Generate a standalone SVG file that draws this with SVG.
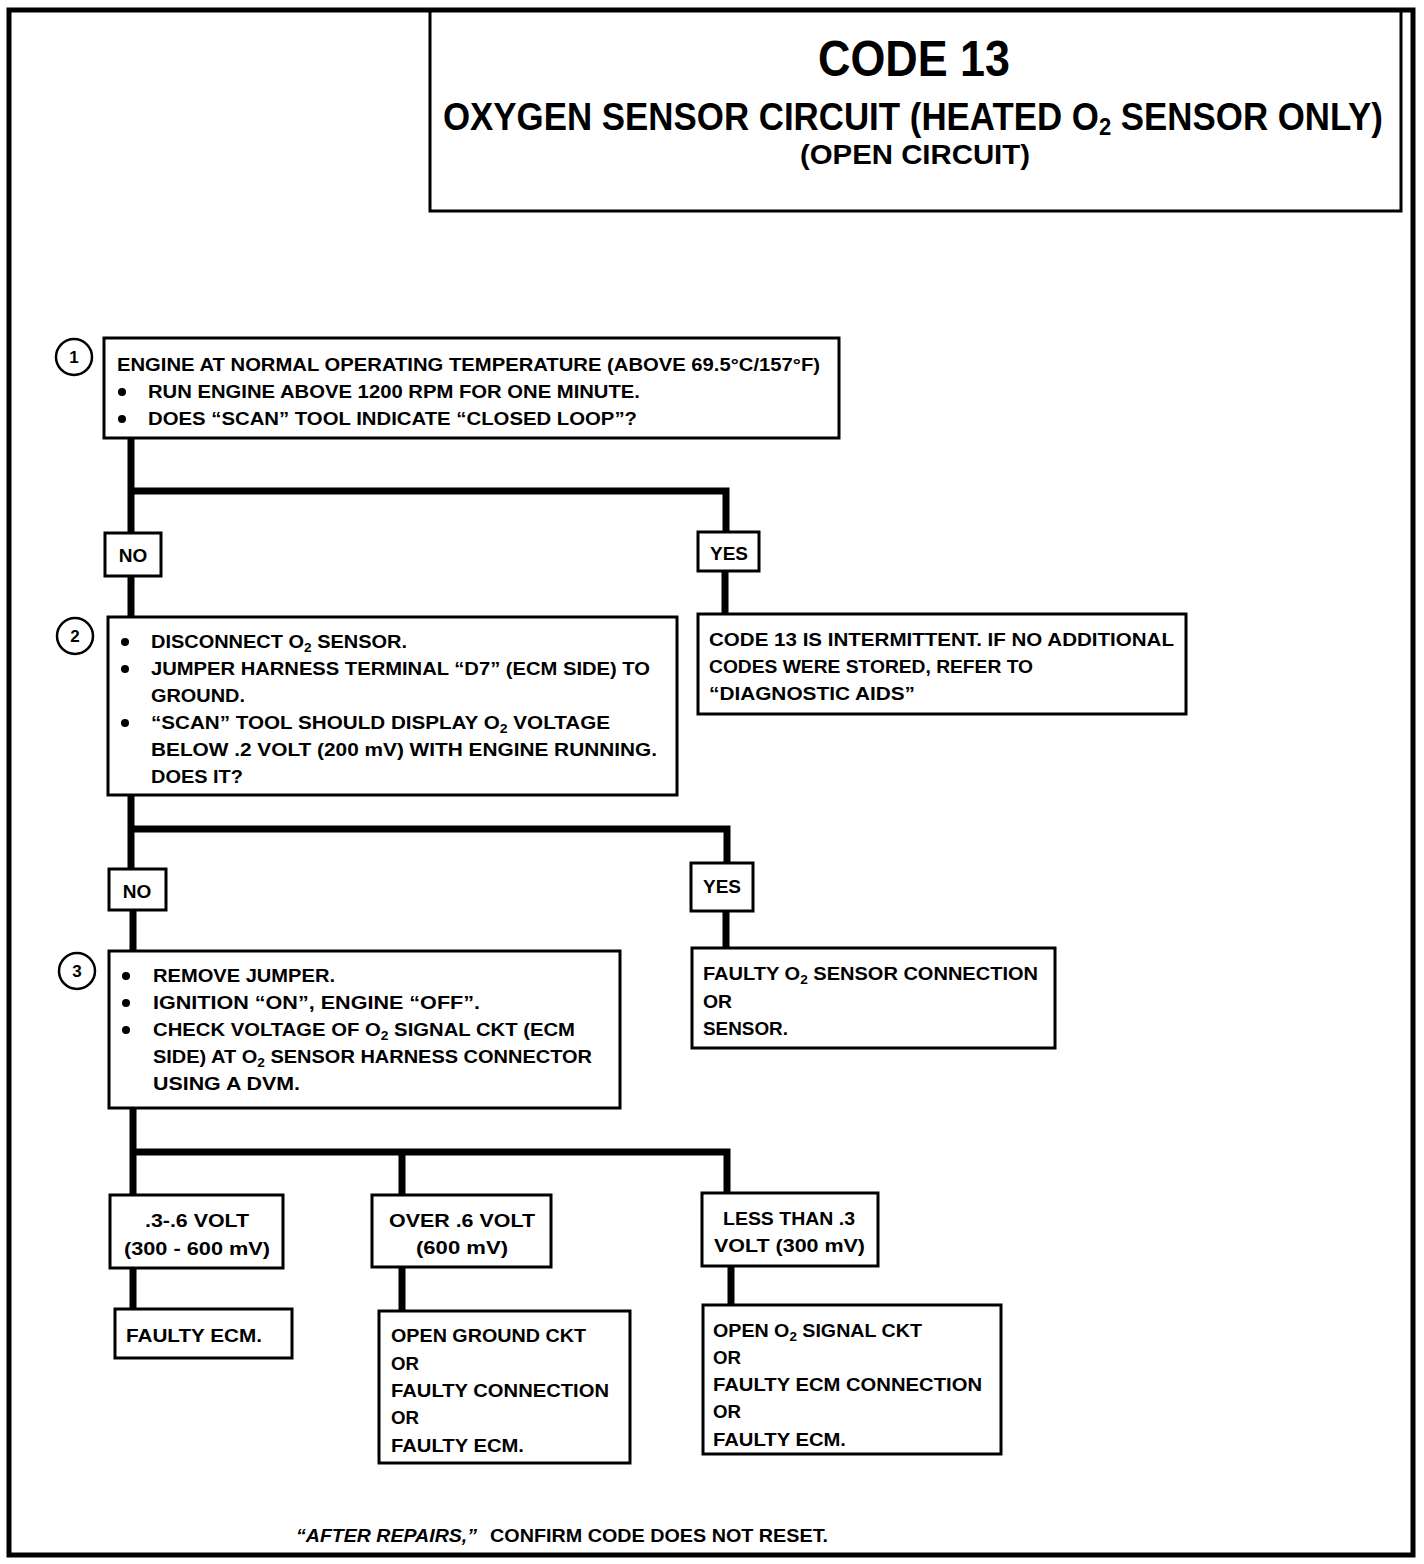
<svg xmlns="http://www.w3.org/2000/svg" width="1424" height="1564" viewBox="0 0 1424 1564">
<style>
.bx{fill:#fff;stroke:#000;stroke-width:3}
.cn{fill:none;stroke:#000;stroke-width:7;stroke-linecap:butt}
.t{font-family:"Liberation Sans",Arial,sans-serif;font-weight:bold;font-size:19px;fill:#000}
.c{text-anchor:middle}
.num{font-family:"Liberation Sans",Arial,sans-serif;font-weight:bold;font-size:17px;text-anchor:middle}
.ring{fill:#fff;stroke:#000;stroke-width:2.5}
.sub{font-size:13px}
.h1{font-size:50px}
.h2{font-size:38px}
.h3{font-size:27px}
</style>
<defs>
<circle id="dot" r="4" fill="#000"/>
</defs>
<rect x="0" y="0" width="1424" height="1564" fill="#fff"/>
<rect id="frame" x="9" y="10" width="1404" height="1545" fill="none" stroke="#000" stroke-width="5"/>

<g id="title">
<rect class="bx" x="430" y="11" width="971" height="200"/>
<text class="t h1 c" x="914" y="76" textLength="192" lengthAdjust="spacingAndGlyphs">CODE 13</text>
<text class="t h2" x="443" y="130" textLength="940" lengthAdjust="spacingAndGlyphs">OXYGEN SENSOR CIRCUIT (HEATED O<tspan style="font-size:24px" dy="5">2</tspan><tspan dy="-5"> SENSOR ONLY)</tspan></text>
<text class="t h3" x="800" y="164" textLength="230" lengthAdjust="spacingAndGlyphs">(OPEN CIRCUIT)</text>
</g>

<g id="connectors">
<path class="cn" d="M131 438 V533 M131 491 H726 V532"/>
<path class="cn" d="M131 576 V617 M725 571 V614"/>
<path class="cn" d="M131 795 V869 M131 829 H727 V863"/>
<path class="cn" d="M133 910 V951 M726 911 V948"/>
<path class="cn" d="M133 1108 V1195 M133 1152 H727 V1193 M402 1152 V1195"/>
<path class="cn" d="M133 1268 V1309 M402 1267 V1311 M731 1266 V1305"/>
</g>

<g id="step1">
<circle class="ring" cx="74" cy="357" r="18"/>
<text class="num" x="74" y="363">1</text>
<rect class="bx" x="104" y="338" width="735" height="100"/>
<text class="t" x="117" y="371" textLength="703" lengthAdjust="spacingAndGlyphs">ENGINE AT NORMAL OPERATING TEMPERATURE (ABOVE 69.5°C/157°F)</text>
<use href="#dot" x="122" y="392"/>
<text class="t" x="148" y="398" textLength="492" lengthAdjust="spacingAndGlyphs">RUN ENGINE ABOVE 1200 RPM FOR ONE MINUTE.</text>
<use href="#dot" x="122" y="419"/>
<text class="t" x="148" y="425" textLength="489" lengthAdjust="spacingAndGlyphs">DOES “SCAN” TOOL INDICATE “CLOSED LOOP”?</text>
</g>

<g id="no1">
<rect class="bx" x="105" y="533" width="56" height="43"/>
<text class="t c" x="133" y="562">NO</text>
</g>
<g id="yes1">
<rect class="bx" x="698" y="532" width="61" height="39"/>
<text class="t c" x="729" y="560">YES</text>
</g>

<g id="step2">
<circle class="ring" cx="75" cy="636" r="18"/>
<text class="num" x="75" y="642">2</text>
<rect class="bx" x="108" y="617" width="569" height="178"/>
<use href="#dot" x="125" y="642"/>
<text class="t" x="151" y="648" textLength="256" lengthAdjust="spacingAndGlyphs">DISCONNECT O<tspan class="sub" dy="4">2</tspan><tspan dy="-4"> SENSOR.</tspan></text>
<use href="#dot" x="125" y="669"/>
<text class="t" x="151" y="675" textLength="499" lengthAdjust="spacingAndGlyphs">JUMPER HARNESS TERMINAL “D7” (ECM SIDE) TO</text>
<text class="t" x="151" y="702" textLength="94" lengthAdjust="spacingAndGlyphs">GROUND.</text>
<use href="#dot" x="125" y="723"/>
<text class="t" x="151" y="729" textLength="459" lengthAdjust="spacingAndGlyphs">“SCAN” TOOL SHOULD DISPLAY O<tspan class="sub" dy="4">2</tspan><tspan dy="-4"> VOLTAGE</tspan></text>
<text class="t" x="151" y="756" textLength="506" lengthAdjust="spacingAndGlyphs">BELOW .2  VOLT (200 mV) WITH ENGINE RUNNING.</text>
<text class="t" x="151" y="783" textLength="92" lengthAdjust="spacingAndGlyphs">DOES IT?</text>
</g>

<g id="intermittent">
<rect class="bx" x="698" y="614" width="488" height="100"/>
<text class="t" x="709" y="646" textLength="465" lengthAdjust="spacingAndGlyphs">CODE 13 IS INTERMITTENT.  IF NO ADDITIONAL</text>
<text class="t" x="709" y="673" textLength="324" lengthAdjust="spacingAndGlyphs">CODES WERE STORED, REFER TO</text>
<text class="t" x="709" y="700" textLength="206" lengthAdjust="spacingAndGlyphs">“DIAGNOSTIC AIDS”</text>
</g>

<g id="no2">
<rect class="bx" x="109" y="869" width="57" height="41"/>
<text class="t c" x="137" y="898">NO</text>
</g>
<g id="yes2">
<rect class="bx" x="691" y="863" width="62" height="48"/>
<text class="t c" x="722" y="893">YES</text>
</g>

<g id="step3">
<circle class="ring" cx="77" cy="971" r="18"/>
<text class="num" x="77" y="977">3</text>
<rect class="bx" x="109" y="951" width="511" height="157"/>
<use href="#dot" x="126" y="976"/>
<text class="t" x="153" y="982" textLength="182" lengthAdjust="spacingAndGlyphs">REMOVE JUMPER.</text>
<use href="#dot" x="126" y="1003"/>
<text class="t" x="153" y="1009" textLength="327" lengthAdjust="spacingAndGlyphs">IGNITION “ON”,  ENGINE  “OFF”.</text>
<use href="#dot" x="126" y="1030"/>
<text class="t" x="153" y="1036" textLength="422" lengthAdjust="spacingAndGlyphs">CHECK VOLTAGE OF O<tspan class="sub" dy="4">2</tspan><tspan dy="-4"> SIGNAL CKT  (ECM</tspan></text>
<text class="t" x="153" y="1063" textLength="439" lengthAdjust="spacingAndGlyphs">SIDE) AT O<tspan class="sub" dy="4">2</tspan><tspan dy="-4"> SENSOR HARNESS CONNECTOR</tspan></text>
<text class="t" x="153" y="1090" textLength="147" lengthAdjust="spacingAndGlyphs">USING A DVM.</text>
</g>

<g id="faultysensor">
<rect class="bx" x="692" y="948" width="363" height="100"/>
<text class="t" x="703" y="980" textLength="335" lengthAdjust="spacingAndGlyphs">FAULTY O<tspan class="sub" dy="4">2</tspan><tspan dy="-4"> SENSOR CONNECTION</tspan></text>
<text class="t" x="703" y="1008" textLength="29" lengthAdjust="spacingAndGlyphs">OR</text>
<text class="t" x="703" y="1035" textLength="85" lengthAdjust="spacingAndGlyphs">SENSOR.</text>
</g>

<g id="volt36">
<rect class="bx" x="110" y="1195" width="173" height="73"/>
<text class="t" x="145" y="1227" textLength="104" lengthAdjust="spacingAndGlyphs">.3-.6 VOLT</text>
<text class="t" x="124" y="1255" textLength="146" lengthAdjust="spacingAndGlyphs">(300 - 600 mV)</text>
</g>
<g id="over6">
<rect class="bx" x="372" y="1195" width="179" height="72"/>
<text class="t" x="389" y="1227" textLength="146" lengthAdjust="spacingAndGlyphs">OVER  .6  VOLT</text>
<text class="t" x="416" y="1254" textLength="92" lengthAdjust="spacingAndGlyphs">(600 mV)</text>
</g>
<g id="less3">
<rect class="bx" x="702" y="1193" width="176" height="73"/>
<text class="t" x="723" y="1225" textLength="132" lengthAdjust="spacingAndGlyphs">LESS THAN .3</text>
<text class="t" x="714" y="1252" textLength="151" lengthAdjust="spacingAndGlyphs">VOLT  (300 mV)</text>
</g>

<g id="faultyecm">
<rect class="bx" x="115" y="1309" width="177" height="49"/>
<text class="t" x="126" y="1342" textLength="136" lengthAdjust="spacingAndGlyphs">FAULTY ECM.</text>
</g>
<g id="openground">
<rect class="bx" x="379" y="1311" width="251" height="152"/>
<text class="t" x="391" y="1342" textLength="195" lengthAdjust="spacingAndGlyphs">OPEN GROUND CKT</text>
<text class="t" x="391" y="1370" textLength="28" lengthAdjust="spacingAndGlyphs">OR</text>
<text class="t" x="391" y="1397" textLength="218" lengthAdjust="spacingAndGlyphs">FAULTY CONNECTION</text>
<text class="t" x="391" y="1424" textLength="28" lengthAdjust="spacingAndGlyphs">OR</text>
<text class="t" x="391" y="1452" textLength="133" lengthAdjust="spacingAndGlyphs">FAULTY ECM.</text>
</g>
<g id="opensignal">
<rect class="bx" x="703" y="1305" width="298" height="149"/>
<text class="t" x="713" y="1337" textLength="209" lengthAdjust="spacingAndGlyphs">OPEN O<tspan class="sub" dy="4">2</tspan><tspan dy="-4"> SIGNAL CKT</tspan></text>
<text class="t" x="713" y="1364" textLength="28" lengthAdjust="spacingAndGlyphs">OR</text>
<text class="t" x="713" y="1391" textLength="269" lengthAdjust="spacingAndGlyphs">FAULTY ECM CONNECTION</text>
<text class="t" x="713" y="1418" textLength="28" lengthAdjust="spacingAndGlyphs">OR</text>
<text class="t" x="713" y="1446" textLength="133" lengthAdjust="spacingAndGlyphs">FAULTY ECM.</text>
</g>

<g id="footer">
<text class="t" x="296" y="1542" font-style="italic" textLength="181" lengthAdjust="spacingAndGlyphs">“AFTER REPAIRS,”</text>
<text class="t" x="490" y="1542" textLength="338" lengthAdjust="spacingAndGlyphs">CONFIRM CODE DOES NOT RESET.</text>
</g>
</svg>
